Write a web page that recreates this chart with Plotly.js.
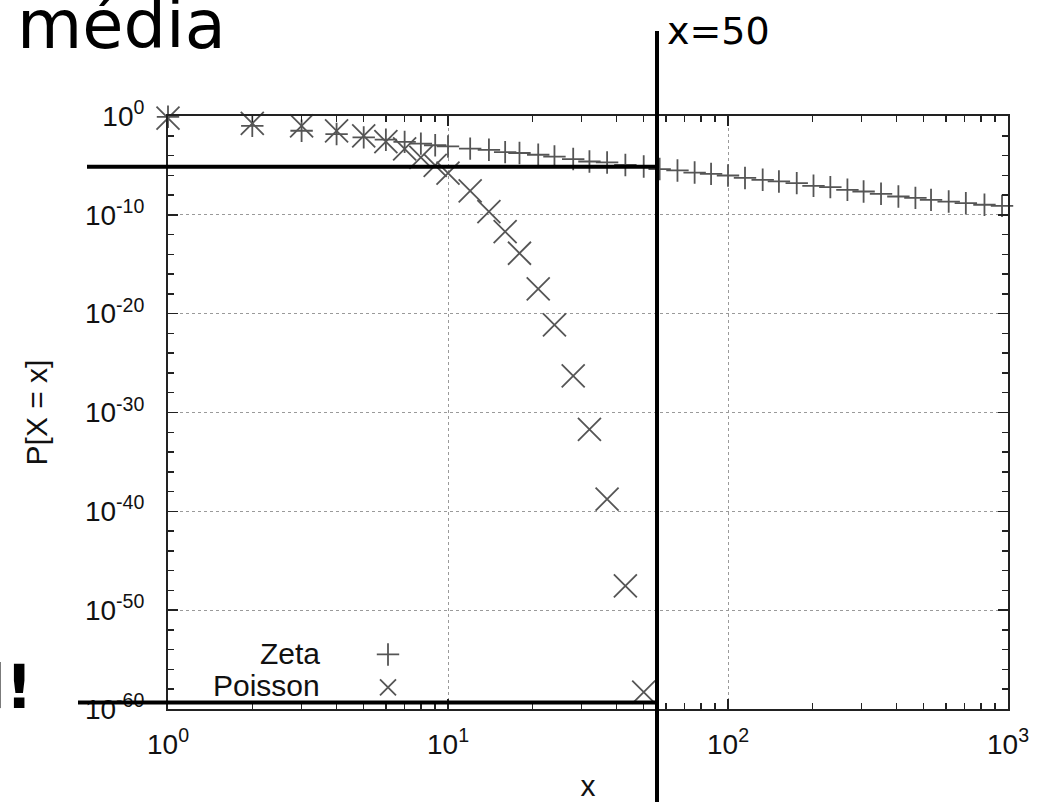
<!DOCTYPE html>
<html>
<head>
<meta charset="utf-8">
<script src="https://cdn.plot.ly/plotly-3.0.1.min.js"></script>
<style>html,body{margin:0;padding:0;background:#fff;}</style>
</head>
<body>
<div id="chart" style="width:1041px;height:802px;"></div>
<script>
// ---- data ----
const zetaX = [1,2,3,4,5,6,7,8,9,10,12,14,16,18,21,24,28,32,37,43,50,57,66,76,87,100,115,133,152,176,202,232,267,305,352,406,467,531,614,707,824,952];
const zetaY = [8.3e-1,1.0e-1,3.2e-2,1.5e-2,6.8e-3,4.0e-3,2.4e-3,1.6e-3,1.1e-3,8.3e-4,5.0e-4,3.8e-4,2.2e-4,1.8e-4,1.2e-4,7.9e-5,4.4e-5,2.5e-5,2.0e-5,1.1e-5,7.9e-6,4.3e-6,3.1e-6,1.9e-6,1.4e-6,9.5e-7,5.4e-7,3.5e-7,2.4e-7,1.6e-7,8.7e-8,6.3e-8,3.4e-8,2.3e-8,1.35e-8,7.2e-9,5.2e-9,3.3e-9,2.2e-9,1.5e-9,1.05e-9,8.0e-10];
const poissonX = [1,2,3,4,5,6,7,8,9,10,12,14,16,18,21,24,28,32,37,43,50];
const poissonY = [6.2e-1,1.8e-1,1.0e-1,3.2e-2,1.0e-2,2.6e-3,4.8e-4,6.6e-5,1.0e-5,1.7e-6,2.7e-8,2.1e-10,2.0e-12,1.3e-14,3.2e-18,7.2e-22,5.0e-27,2.0e-32,1.7e-39,2.9e-48,5.2e-59];
const seriesNames = ["Zeta", "Poisson"];
const xTickExp = [0, 1, 2, 3];
const yTickExp = [0, -10, -20, -30, -40, -50, -60];
const yMinorStep = 2;
const xTitle = "x";
const yTitle = "P[X = x]";
const titleText = "média";
const markText = "x=50";
const sideText = "l!";

// ---- helpers for ticks ----
const xTickVals = xTickExp.map(e => Math.pow(10, e));
const xTickText = xTickExp.map(e => "10<sup>" + e + "</sup>");
const yTickVals = yTickExp.map(e => Math.pow(10, e));
const yTickText = yTickExp.map(e => "10<sup>" + e + "</sup>");
const xMinor = [];
for (let d = 0; d < 3; d++) for (let m = 2; m <= 9; m++) xMinor.push(m * Math.pow(10, d));
const yMinor = [];
for (let e = -60; e <= 0; e += yMinorStep) if (e % 10 !== 0) yMinor.push(Math.pow(10, e));

const axisFont = {family: "Liberation Sans, Arial, sans-serif", size: 28, color: "#111"};
const markColor = "#555555";

const traces = [
  {x: zetaX, y: zetaY, type: "scatter", mode: "markers", name: "",
   hovertemplate: seriesNames[0] + ": %{x}, %{y}<extra></extra>",
   cliponaxis: false,
   marker: {symbol: "cross-thin-open", size: 16, line: {color: markColor, width: 1.8}, color: markColor}},
  {x: poissonX, y: poissonY, type: "scatter", mode: "markers", name: "",
   hovertemplate: seriesNames[1] + ": %{x}, %{y}<extra></extra>",
   cliponaxis: false,
   marker: {symbol: "x-thin-open", size: 23, line: {color: markColor, width: 1.8}, color: markColor}}
];

const L = 168, R = 1008, T = 116, B = 709;
const px = v => (v - L) / (R - L);
const py = v => (B - v) / (B - T);

const layout = {
  width: 1041, height: 802,
  margin: {l: L, r: 1041 - R, t: T, b: 802 - B, pad: 0},
  paper_bgcolor: "#fff", plot_bgcolor: "#fff",
  showlegend: true,
  legend: {x: px(368), y: py(633), xanchor: "left", yanchor: "top",
           bgcolor: "rgba(0,0,0,0)", borderwidth: 0, font: {size: 23, family: "Liberation Sans"},
           tracegroupgap: 0},
  xaxis: {
    type: "log", range: [0, 3], tickmode: "array", tickvals: xTickVals, ticktext: xTickText,
    ticks: "inside", ticklen: 10, tickwidth: 1.5, tickcolor: "#222",
    showline: true, linecolor: "#222", linewidth: 2, mirror: "allticks",
    showgrid: true, gridcolor: "#9a9a9a", griddash: "dot", gridwidth: 1, zeroline: false,
    minor: {tickmode: "array", tickvals: xMinor, ticks: "inside", ticklen: 6, tickwidth: 1.5, tickcolor: "#222", showgrid: false},
    tickfont: axisFont, ticklabelstandoff: 9,
    title: {text: xTitle, font: {family: "Liberation Sans, Arial, sans-serif", size: 30, color: "#111"}, standoff: 24}
  },
  yaxis: {
    type: "log", range: [-60, 0], tickmode: "array", tickvals: yTickVals, ticktext: yTickText,
    ticks: "inside", ticklen: 10, tickwidth: 1.5, tickcolor: "#222",
    showline: true, linecolor: "#222", linewidth: 2, mirror: "allticks",
    showgrid: true, gridcolor: "#9a9a9a", griddash: "dot", gridwidth: 1, zeroline: false,
    minor: {tickmode: "array", tickvals: yMinor, ticks: "inside", ticklen: 6, tickwidth: 1.5, tickcolor: "#222", showgrid: false},
    tickfont: axisFont, ticklabelstandoff: 16,
    title: {text: yTitle, font: {family: "Liberation Sans, Arial, sans-serif", size: 30, color: "#111"}, standoff: 28}
  },
  shapes: [
    {type: "line", xref: "paper", yref: "paper", x0: px(657), x1: px(657), y0: py(31), y1: py(802), line: {color: "#000", width: 4}, layer: "above"},
    {type: "line", xref: "paper", yref: "paper", x0: px(87), x1: px(659), y0: py(166.7), y1: py(166.7), line: {color: "#000", width: 4}, layer: "above"},
    {type: "line", xref: "paper", yref: "paper", x0: px(78), x1: px(659), y0: py(702.5), y1: py(702.5), line: {color: "#000", width: 4}, layer: "above"}
  ],
  annotations: [
    {xref: "paper", yref: "paper", x: px(15), y: py(25), xanchor: "left", yanchor: "middle", showarrow: false,
     text: titleText, font: {family: "DejaVu Sans", size: 67, color: "#000"}},
    {xref: "paper", yref: "paper", x: px(665), y: py(31), xanchor: "left", yanchor: "middle", showarrow: false,
     text: markText, font: {family: "DejaVu Sans", size: 38, color: "#000"}},
    {xref: "paper", yref: "paper", x: px(35), y: py(687), xanchor: "right", yanchor: "middle", showarrow: false,
     text: sideText, font: {family: "DejaVu Sans", size: 60, color: "#000", weight: "bold"}},
    {xref: "paper", yref: "paper", x: px(322), y: py(653), xanchor: "right", yanchor: "middle", showarrow: false,
     text: seriesNames[0], font: {family: "Liberation Sans", size: 30, color: "#111"}},
    {xref: "paper", yref: "paper", x: px(322), y: py(685), xanchor: "right", yanchor: "middle", showarrow: false,
     text: seriesNames[1], font: {family: "Liberation Sans", size: 30, color: "#111"}}
  ]
};

Plotly.newPlot("chart", traces, layout, {staticPlot: true, displayModeBar: false});
</script>
</body>
</html>
